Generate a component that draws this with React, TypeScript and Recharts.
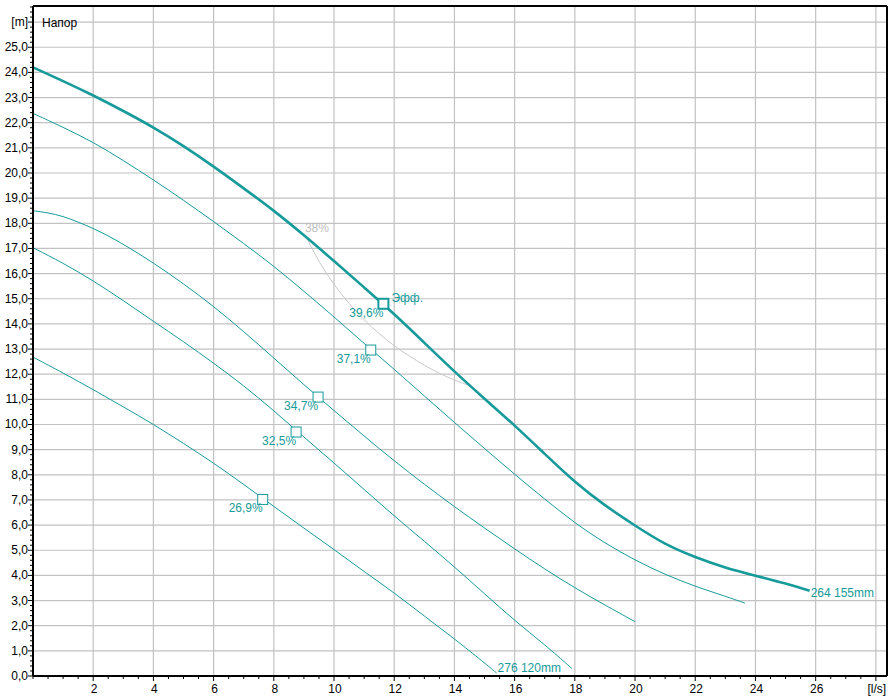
import React from "react";
import {
    ComposedChart,
    Line,
    Scatter,
    XAxis,
    YAxis,
    ReferenceLine,
} from "recharts";

const TEAL = "#179a9a";
const GRID = "#c2c2c2";
const FONT = "'Liberation Sans', Arial, sans-serif";

const X_MAX = 28.37;
const Y_MAX = 26.64;

// 264 155mm – full impeller (thick)
const q264 = [0, 1, 2, 3, 4, 5, 6, 7, 8, 9, 10, 11, 12, 13, 14, 15, 16, 17, 18, 19, 20, 21, 22, 23, 24, 25, 25.8];
const h264 = [24.2, 23.66, 23.09, 22.47, 21.82, 21.08, 20.26, 19.39, 18.51, 17.53, 16.5, 15.45, 14.4, 13.25, 12.1, 11.02, 9.97, 8.83, 7.7, 6.77, 5.98, 5.22, 4.72, 4.3, 3.99, 3.68, 3.39];

// trimmed impellers
const qB = [0, 1, 2, 3, 4, 5, 6, 7, 8, 9, 10, 11, 12, 13, 14, 15, 16, 17, 18, 19, 20, 21, 22, 23, 23.65];
const hB = [22.37, 21.82, 21.23, 20.5, 19.73, 18.92, 18.07, 17.2, 16.3, 15.3, 14.28, 13.22, 12.2, 11.13, 10.08, 9.04, 8.02, 7.03, 6.08, 5.28, 4.6, 4.03, 3.56, 3.17, 2.9];

const qC = [0, 0.5, 1, 1.5, 2, 2.5, 3, 4, 5, 6, 7, 8, 9, 10, 11, 12, 13, 14, 15, 16, 17, 18, 19, 20];
const hC = [18.5, 18.42, 18.28, 18.05, 17.8, 17.5, 17.17, 16.43, 15.6, 14.7, 13.7, 12.64, 11.58, 10.55, 9.54, 8.55, 7.62, 6.73, 5.88, 5.05, 4.25, 3.5, 2.82, 2.16];

const qD = [0, 1, 2, 3, 4, 5, 6, 7, 8, 9, 10, 11, 12, 13, 14, 15, 16, 17, 17.9];
const hD = [17.03, 16.42, 15.72, 14.93, 14.1, 13.3, 12.44, 11.55, 10.55, 9.5, 8.47, 7.42, 6.36, 5.36, 4.34, 3.27, 2.2, 1.25, 0.3];

// 276 120mm – smallest impeller
const q276 = [0, 1, 2, 3, 4, 5, 6, 7, 8, 9, 10, 11, 12, 13, 14, 15, 15.4];
const h276 = [12.68, 12.05, 11.39, 10.7, 10.01, 9.25, 8.47, 7.62, 6.74, 5.88, 5.03, 4.15, 3.31, 2.38, 1.48, 0.52, 0.12];

// 38% iso-efficiency line
const qIso = [9.1, 9.5, 10, 10.5, 11, 11.5, 12, 12.5, 13, 13.5, 14, 14.5];
const hIso = [17.4, 16.45, 15.55, 14.8, 14.15, 13.6, 13.12, 12.72, 12.35, 12.03, 11.76, 11.55];
const isoLabel = ["38%"];

// best efficiency points
const bepQ = [11.22, 9.47, 8.74, 7.63];
const bepH = [12.96, 11.09, 9.7, 7.02];
const bepLabels = ["37,1%", "34,7%", "32,5%", "26,9%"];

const effQ = [11.64];
const effH = [14.8];
const effLabels = ["39,6%"];
const effTitle = "Эфф.";

const endQ = [25.8, 15.4];
const endH = [3.39, 0.12];
const endLabels = ["264 155mm", "276 120mm"];

const xMajor = [2, 4, 6, 8, 10, 12, 14, 16, 18, 20, 22, 24, 26, 28];
const xLabels = ["2", "4", "6", "8", "10", "12", "14", "16", "18", "20", "22", "24", "26", "[l/s]"];
const yMajor = [0, 1, 2, 3, 4, 5, 6, 7, 8, 9, 10, 11, 12, 13, 14, 15, 16, 17, 18, 19, 20, 21, 22, 23, 24, 25, 26];
const yLabels = ["0,0", "1,0", "2,0", "3,0", "4,0", "5,0", "6,0", "7,0", "8,0", "9,0", "10,0", "11,0", "12,0", "13,0", "14,0", "15,0", "16,0", "17,0", "18,0", "19,0", "20,0", "21,0", "22,0", "23,0", "24,0", "25,0", "[m]"];

const xTicks = Array.from({ length: 57 }, (_, i) => i / 2);
const yTicks = Array.from({ length: 134 }, (_, i) => (i * 2) / 10);
const gridX = xMajor;
const gridY = yMajor.slice(1);

const toPoints = (q: number[], h: number[], labels?: string[]) =>
    q.map((v, i) => ({ q: v, h: h[i], label: labels ? labels[i] : "" }));

const XTick = (props: any) => {
    const { x, y, payload } = props;
    const k = xMajor.indexOf(payload.value);
    const len = k >= 0 ? 5 : 3;
    return (
        <g>
            <line x1={x} x2={x} y1={y} y2={y + len} stroke="#000" />
            {k >= 0 && (
                <text x={x + 1} y={y + 17} textAnchor="middle" fontSize={12} fontFamily={FONT} fill="#000">
                    {xLabels[k]}
                </text>
            )}
        </g>
    );
};

const YTick = (props: any) => {
    const { x, y, payload } = props;
    const k = yMajor.indexOf(payload.value);
    const len = k >= 0 ? 5 : 3;
    return (
        <g>
            <line x1={x} x2={x - len} y1={y} y2={y} stroke="#000" />
            {k >= 0 && (
                <text x={x - 5} y={y + 4} textAnchor="end" fontSize={12} fontFamily={FONT} fill="#000">
                    {yLabels[k]}
                </text>
            )}
        </g>
    );
};

const BepBox = (props: any) => {
    const { cx, cy, payload } = props;
    return (
        <g>
            <rect x={cx - 5} y={cy - 5} width={10} height={10} fill="#fff" stroke={TEAL} strokeWidth={1} />
            <text x={cx} y={cy + 13} textAnchor="end" fontSize={12} fontFamily={FONT} fill={TEAL}>
                {payload.label}
            </text>
        </g>
    );
};

const EffBox = (props: any) => {
    const { cx, cy, payload } = props;
    return (
        <g>
            <rect x={cx - 5} y={cy - 5} width={10} height={10} fill="#fff" stroke={TEAL} strokeWidth={2} />
            <text x={cx} y={cy + 13} textAnchor="end" fontSize={12} fontFamily={FONT} fill={TEAL}>
                {payload.label}
            </text>
            <text x={cx + 8} y={cy - 2} fontSize={12} fontFamily={FONT} fill={TEAL}>
                {effTitle}
            </text>
        </g>
    );
};

const EndLabel = (props: any) => {
    const { cx, cy, payload, index } = props;
    return (
        <text x={cx + 1} y={index === 0 ? cy + 6 : cy - 1} fontSize={12} fontFamily={FONT} fill={TEAL}>
            {payload.label}
        </text>
    );
};

const IsoLabel = (props: any) => {
    const { cx, cy, payload } = props;
    return (
        <text x={cx - 2} y={cy - 6} fontSize={12} fontFamily={FONT} fill="#bdbdbd">
            {payload.label}
        </text>
    );
};

export default function App() {
    const thin = [toPoints(qB, hB), toPoints(qC, hC), toPoints(qD, hD), toPoints(q276, h276)];
    const iso = toPoints(qIso, hIso);

    return (
        <div style={{ position: "absolute", left: 0, top: 0, width: 894, height: 700, background: "#fff" }}>
            <ComposedChart width={894} height={700} margin={{ top: 6, right: 7, bottom: 0, left: 0 }}>
                <XAxis
                    dataKey="q"
                    type="number"
                    domain={[0, X_MAX]}
                    ticks={xTicks}
                    interval={0}
                    tickSize={0}
                    tickMargin={0}
                    tickLine={false}
                    tick={<XTick />}
                    height={24}
                    axisLine={{ stroke: "#000", strokeWidth: 2 }}
                    allowDataOverflow
                />
                <YAxis
                    type="number"
                    domain={[0, Y_MAX]}
                    ticks={yTicks}
                    interval={0}
                    tickSize={0}
                    tickMargin={0}
                    tickLine={false}
                    tick={<YTick />}
                    width={33}
                    axisLine={{ stroke: "#000", strokeWidth: 2 }}
                    allowDataOverflow
                />

                {gridX.map((v) => (
                    <ReferenceLine key={"gx" + v} x={v} stroke={GRID} strokeWidth={1.2} />
                ))}
                {gridY.map((v) => (
                    <ReferenceLine key={"gy" + v} y={v} stroke={GRID} strokeWidth={1.2} />
                ))}
                <ReferenceLine x={X_MAX} stroke="#000" strokeWidth={2} />
                <ReferenceLine y={Y_MAX} stroke="#000" strokeWidth={2} />

                <Line
                    data={iso}
                    dataKey="h"
                    type="basis"
                    stroke="#c8c8c8"
                    strokeWidth={1}
                    dot={false}
                    isAnimationActive={false}
                />
                {thin.map((d, i) => (
                    <Line
                        key={"t" + i}
                        data={d}
                        dataKey="h"
                        type="basis"
                        stroke={TEAL}
                        strokeWidth={1}
                        dot={false}
                        isAnimationActive={false}
                    />
                ))}
                <Line
                    data={toPoints(q264, h264)}
                    dataKey="h"
                    type="basis"
                    stroke={TEAL}
                    strokeWidth={2.6}
                    dot={false}
                    isAnimationActive={false}
                />

                <Scatter data={toPoints(qIso.slice(0, 1), hIso.slice(0, 1), isoLabel)} dataKey="h" shape={<IsoLabel />} isAnimationActive={false} />
                <Scatter data={toPoints(bepQ, bepH, bepLabels)} dataKey="h" shape={<BepBox />} isAnimationActive={false} />
                <Scatter data={toPoints(effQ, effH, effLabels)} dataKey="h" shape={<EffBox />} isAnimationActive={false} />
                <Scatter data={toPoints(endQ, endH, endLabels)} dataKey="h" shape={<EndLabel />} isAnimationActive={false} />
            </ComposedChart>
            <div
                style={{
                    position: "absolute",
                    left: 42,
                    top: 16,
                    fontFamily: FONT,
                    fontSize: 12,
                    lineHeight: "14px",
                    color: "#000",
                }}
            >
                Напор
            </div>
        </div>
    );
}
